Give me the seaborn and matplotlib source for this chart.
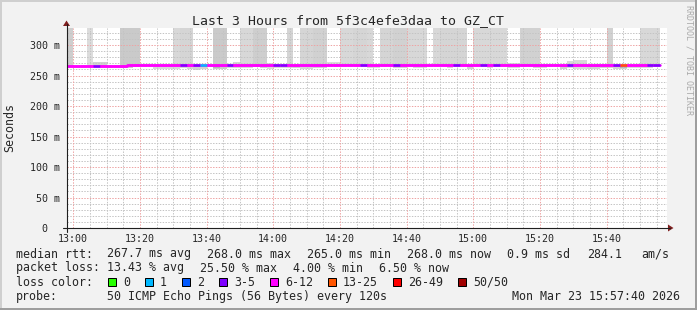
import numpy as np
import pandas as pd
import matplotlib
matplotlib.use("Agg")
import matplotlib.pyplot as plt
import seaborn as sns
from matplotlib.patches import Rectangle, Polygon
from matplotlib.lines import Line2D

# ------------------------------------------------------------------ data
title = "Last 3 Hours from 5f3c4efe3daa to GZ_CT"
y_label = "Seconds"
credit = "RRDTOOL / TOBI OETIKER"

# 89 two-minute steps, start times in minutes from 13:00
step_start_min = list(range(-2, 176, 2))

median_ms = [
    265.0, 265.0, 265.0, 265.0, 265.0, 265.0, 265.0, 265.0, 265.0, 268.0,
    268.0, 268.0, 268.0, 268.0, 268.0, 268.0, 268.0, 268.0, 268.0, 268.0,
    268.0, 268.0, 268.0, 268.0, 268.0, 268.0, 268.0, 268.0, 268.0, 268.0,
    268.0, 268.0, 268.0, 268.0, 268.0, 268.0, 268.0, 268.0, 268.0, 268.0,
    268.0, 268.0, 268.0, 268.0, 268.0, 268.0, 268.0, 268.0, 268.0, 268.0,
    268.0, 268.0, 268.0, 268.0, 268.0, 268.0, 268.0, 268.0, 268.0, 268.0,
    268.0, 268.0, 268.0, 268.0, 268.0, 268.0, 268.0, 268.0, 268.0, 268.0,
    268.0, 268.0, 268.0, 268.0, 268.0, 268.0, 268.0, 268.0, 268.0, 268.0,
    268.0, 268.0, 268.0, 268.0, 268.0, 268.0, 268.0, 268.0, 268.0,
]

# loss category index per step (into loss_labels)
loss_cat = [
    4, 4, 4, 4, 3, 4, 4, 4, 4, 4,
    4, 4, 4, 4, 4, 4, 4, 3, 4, 3,
    1, 4, 4, 4, 3, 4, 4, 4, 4, 4,
    4, 3, 3, 4, 4, 4, 4, 4, 4, 4,
    4, 4, 4, 4, 3, 4, 4, 4, 4, 3,
    4, 4, 4, 4, 4, 4, 4, 4, 3, 4,
    4, 4, 3, 4, 3, 4, 4, 4, 4, 4,
    4, 4, 4, 4, 4, 3, 4, 4, 4, 4,
    4, 4, 3, 5, 4, 4, 4, 3, 3,
]

# smoke (ping spread) per step, ms
smoke_hi = [
    400, 265, 265, 400, 272, 272, 265, 265, 400, 400,
    400, 268, 268, 268, 268, 268, 400, 400, 400, 268,
    268, 268, 400, 400, 269, 273, 400, 400, 400, 400,
    271, 268, 268, 400, 268, 400, 400, 400, 400, 273,
    273, 400, 400, 400, 400, 400, 268, 400, 400, 400,
    400, 400, 400, 400, 268, 400, 400, 400, 400, 400,
    268, 400, 400, 400, 400, 400, 271, 271, 400, 400,
    400, 268, 268, 268, 268, 274, 276, 276, 268, 268,
    268, 400, 268, 268, 268, 268, 400, 400, 400,
]
smoke_lo = [
    264, 265, 265, 265, 265, 265, 265, 265, 263, 263,
    264, 268, 268, 260, 260, 261, 260, 262, 260, 259,
    260, 264, 260, 260, 262, 262, 262, 262, 264, 262,
    261, 263, 263, 262, 262, 261, 261, 262, 262, 266,
    266, 266, 266, 266, 265, 263, 263, 266, 266, 263,
    263, 266, 262, 262, 268, 266, 266, 262, 266, 266,
    261, 266, 266, 262, 266, 266, 262, 262, 266, 266,
    262, 262, 268, 268, 261, 262, 261, 261, 260, 260,
    262, 262, 260, 260, 262, 262, 263, 262, 264,
]
smoke_core_lo = [
    265, 265, 265, 265, 265, 265, 265, 265, 265, 268,
    268, 268, 268, 268, 268, 268, 268, 268, 264, 264,
    264, 268, 263, 264, 268, 268, 268, 268, 268, 265,
    268, 268, 268, 268, 264, 268, 268, 268, 268, 268,
    268, 268, 268, 268, 268, 268, 268, 268, 268, 264,
    265, 268, 268, 268, 268, 268, 268, 268, 268, 268,
    264, 268, 268, 268, 268, 268, 268, 268, 268, 268,
    268, 268, 268, 268, 264, 268, 265, 265, 264, 264,
    265, 268, 264, 263, 268, 268, 268, 268, 268,
]
smoke_density = [
    .55, 0, 0, .35, .5, .5, 0, 0, .6, .6,
    .6, 0, 0, .4, .4, .4, .4, .45, .45, .5,
    .5, .3, .6, .6, .4, .45, .4, .4, .55, .55,
    .4, .4, .4, .45, .5, .45, .45, .5, .5, .35,
    .35, .4, .4, .45, .45, .4, .35, .45, .45, .5,
    .5, .4, .4, .4, 0, .4, .45, .45, .45, .45,
    .5, .4, .4, .4, .4, .4, .4, .4, .5, .5,
    .5, .4, 0, 0, .55, .4, .4, .4, .5, .5,
    .5, .5, .5, .5, .4, .4, .4, .4, .4,
]

loss_labels = ["0", "1", "2", "3-5", "6-12", "13-25", "26-49", "50/50"]

xtick_min = [0, 20, 40, 60, 80, 100, 120, 140, 160]
xtick_labels = ["13:00", "13:20", "13:40", "14:00", "14:20",
                "14:40", "15:00", "15:20", "15:40"]
ytick_ms = [0, 50, 100, 150, 200, 250, 300]
ytick_labels = ["0  ", "50 m", "100 m", "150 m", "200 m", "250 m", "300 m"]

legend_row1 = ["median rtt:", "267.7 ms avg", "268.0 ms max", "265.0 ms min",
               "268.0 ms now", "0.9 ms sd", "284.1", "am/s"]
legend_row2 = ["packet loss:", "13.43 % avg", "25.50 % max", "4.00 % min", "6.50 % now"]
legend_row3_head = "loss color:"
legend_row4 = ["probe:", "50 ICMP Echo Pings (56 Bytes) every 120s"]
timestamp = "Mon Mar 23 15:57:40 2026"

# ------------------------------------------------------------------ style
loss_colors = ["#26ff00", "#00b8ff", "#0059ff", "#7e00ff",
               "#ff00ff", "#ff5500", "#ff0000", "#a10000"]
GRID = "#c4c4c4"
MGRID = "#eea4a4"
AXIS = "#1f1f1f"
ARROW = "#801f1f"

sns.set_style("white")
plt.rcParams["font.family"] = ["DejaVu Sans Mono", "DejaVu Sans"]

W, H = 697, 310
fig = plt.figure(figsize=(W / 100, H / 100), dpi=100, facecolor="#f2f2f2")

X0, X1, Y0, Y1 = 66.5, 666.5, 228.0, 28.0
ax = fig.add_axes([X0 / W, 1 - Y0 / H, (X1 - X0) / W, (Y0 - Y1) / H])
ax.set_facecolor("white")
ax.set_xlim(-2, 178)
ax.set_ylim(0, 328)
for s in ax.spines.values():
    s.set_visible(False)


def F(x, y):
    return (x / W, 1 - y / H)


df = pd.DataFrame({
    "t": step_start_min, "median": median_ms, "loss": loss_cat,
    "hi": smoke_hi, "lo": smoke_lo, "core": smoke_core_lo, "dens": smoke_density,
})

# smoke
has = df["dens"] > 0
greys = [(0.96 - 0.28 * d,) * 3 for d in df.loc[has, "dens"]]
ax.bar(df.loc[has, "t"], df.loc[has, "hi"] - df.loc[has, "lo"],
       bottom=df.loc[has, "lo"], width=2, align="edge", color=greys,
       linewidth=0, zorder=1)
core = df["core"] < df["median"]
ax.bar(df.loc[core, "t"], df.loc[core, "median"] - df.loc[core, "core"],
       bottom=df.loc[core, "core"], width=2, align="edge", color="#b4b4b4",
       linewidth=0, zorder=1.2)

# grid (dotted, drawn above the smoke)
gkw = dict(lw=0.72, linestyle=(0, (1.4, 1.4)))
for v in range(5, 178, 5):
    if v % 20:
        ax.axvline(v, color=GRID, zorder=2, **gkw)
for v in xtick_min:
    ax.axvline(v, color=MGRID, zorder=2.1, **gkw)
for h in range(10, 329, 10):
    if h % 50:
        ax.axhline(h, color=GRID, zorder=2, **gkw)
for h in ytick_ms[1:]:
    ax.axhline(h, color=MGRID, zorder=2.1, **gkw)

# median line (base) + loss coloured segments
line_df = pd.concat([df[["t", "median"]],
                     pd.DataFrame({"t": [df["t"].iloc[-1] + 2],
                                   "median": [df["median"].iloc[-1]]})])
sns.lineplot(data=line_df, x="t", y="median", color=loss_colors[4], lw=1.8,
             drawstyle="steps-post", ax=ax, zorder=3, legend=False)
ax.hlines(df["median"], df["t"], df["t"] + 2,
          colors=[loss_colors[c] for c in df["loss"]], lw=1.8, zorder=3.1,
          capstyle="butt")

# ticks
ax.set_xticks(xtick_min, xtick_labels)
ax.set_yticks(ytick_ms, ytick_labels)
ax.tick_params(axis="x", length=0, pad=4.0, labelsize=7.2)
ax.tick_params(axis="y", length=0, pad=4.6, labelsize=7.2)
ax.set_xlabel("")
ax.set_ylabel("")

# axes lines and arrows
fig.add_artist(Line2D([62.5 / W, 670 / W], [1 - Y0 / H] * 2, color=AXIS, lw=0.8))
fig.add_artist(Line2D([X0 / W] * 2, [1 - 232 / H, 1 - 24 / H], color=AXIS, lw=0.8))
fig.add_artist(Polygon([F(668, 224.5), F(668, 231.5), F(673.5, 228)],
                       closed=True, color=ARROW, lw=0))
fig.add_artist(Polygon([F(63, 26), F(70, 26), F(66.5, 20.5)],
                       closed=True, color=ARROW, lw=0))

# frame
fig.add_artist(Rectangle((0, 1 - 2 / H), 1, 2 / H, transform=fig.transFigure, color="#cfcfcf", lw=0))
fig.add_artist(Rectangle((0, 0), 2 / W, 1, transform=fig.transFigure, color="#cfcfcf", lw=0))
fig.add_artist(Rectangle((0, 0), 1, 2 / H, transform=fig.transFigure, color="#9e9e9e", lw=0))
fig.add_artist(Rectangle((1 - 2 / W, 0), 2 / W, 1, transform=fig.transFigure, color="#9e9e9e", lw=0))

# texts
fig.text(*F(348, 24), title, ha="center", va="baseline", fontsize=9.5)
fig.text(*F(10, 128), y_label, ha="center", va="center", rotation=90, fontsize=8.4)
fig.text(*F(688.5, 5), credit, ha="center", va="top", rotation=270,
         fontsize=6.0, color="#aaaaaa")

LFS = 8.37
row1_x = [16, 107, 207, 307, 406.7, 506.7, 586.7, 641.7]
for x, s in zip(row1_x, legend_row1):
    fig.text(*F(x, 257.5), s, ha="left", va="baseline", fontsize=LFS)
row2_x = [16, 107, 200, 292.7, 379.3]
for x, s in zip(row2_x, legend_row2):
    fig.text(*F(x, 271.5), s, ha="left", va="baseline", fontsize=LFS)
fig.text(*F(16, 285.5), legend_row3_head, ha="left", va="baseline", fontsize=LFS)
bx = 108.0
for lab, col in zip(loss_labels, loss_colors):
    fig.add_artist(Rectangle(F(bx, 286), 8 / W, 8 / H, transform=fig.transFigure,
                             facecolor=col, edgecolor="black", lw=0.72))
    fig.text(*F(bx + 15, 285.5), lab, ha="left", va="baseline", fontsize=LFS)
    bx = bx + 15 + 7 * len(lab) + 15
row4_x = [16, 107]
for x, s in zip(row4_x, legend_row4):
    fig.text(*F(x, 300), s, ha="left", va="baseline", fontsize=LFS)
fig.text(*F(680, 300), timestamp, ha="right", va="baseline", fontsize=LFS)

fig.savefig("out.png", dpi=100, facecolor=fig.get_facecolor())
